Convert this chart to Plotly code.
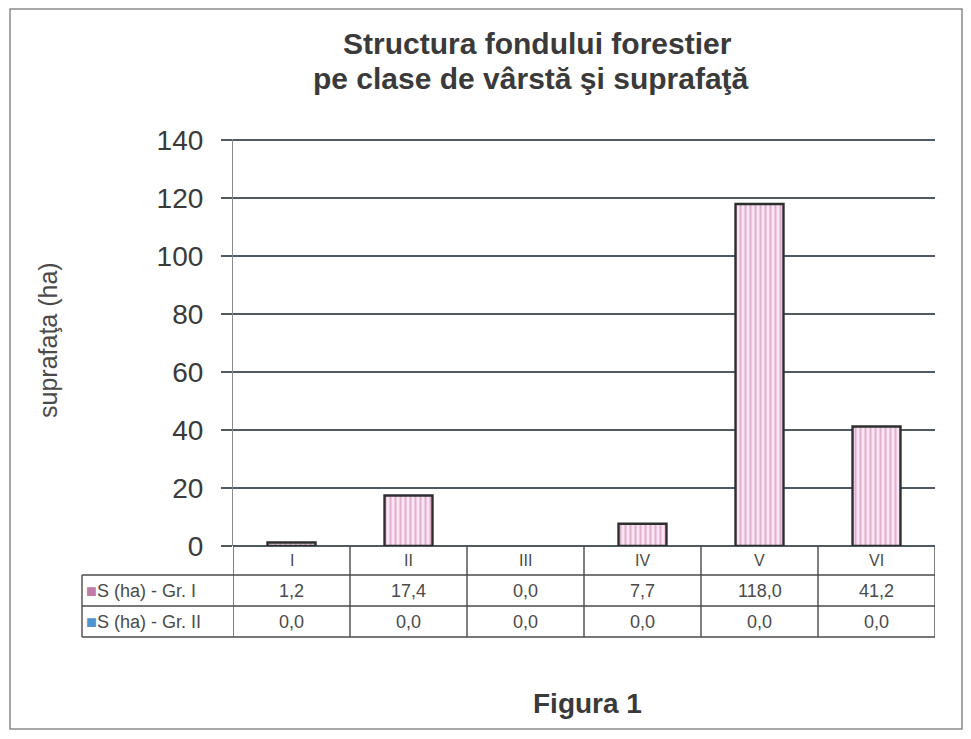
import plotly.graph_objects as go

categories = ["I", "II", "III", "IV", "V", "VI"]
gr1 = [1.2, 17.4, 0.0, 7.7, 118.0, 41.2]
gr2 = [0.0, 0.0, 0.0, 0.0, 0.0, 0.0]
series_names = ["S (ha) - Gr. I", "S (ha) - Gr. II"]
y_ticks = [0, 20, 40, 60, 80, 100, 120, 140]

# page has an 8px body margin; reference pixel coords are mapped by subtracting it
OFF = 8
W, H = 955, 723
L, R, T, B = 225, 28, 131, 185
PW, PH = W - L - R, H - T - B


def px_x(px):
    return (px - OFF - L) / PW


def px_y(py):
    return (H - B - (py - OFF)) / PH


FONT = "Liberation Sans, Arial, sans-serif"
GRID = "#4f5a64"
LINE = "#4a4a4a"
TXT = "#4a4a4a"

fig = go.Figure()
fig.add_trace(go.Bar(
    x=list(range(len(categories))), y=gr1, name=series_names[0], width=0.41,
    marker=dict(color="#f6e3ee",
                line=dict(color="#2e2e2e", width=[2.4 if v > 0 else 0 for v in gr1]),
                pattern=dict(shape="|", fgcolor="#c776ae", bgcolor="#f9e6f1",
                             size=5, solidity=0.4)),
    showlegend=False,
))
fig.add_trace(go.Bar(
    x=list(range(len(categories))), y=gr2, name=series_names[1], width=0.41,
    marker=dict(color="#6aa6d8", line=dict(width=0)),
    showlegend=False,
))

shapes = []
ann = []
r0, r1, r2, r3 = px_y(546), px_y(575), px_y(606), px_y(637)
row_mid = [(r0 + r1) / 2, (r1 + r2) / 2, (r2 + r3) / 2]
left_x = px_x(82)

for i in range(len(categories) + 1):
    shapes.append(dict(type="line", xref="x", yref="paper", x0=i - 0.5, x1=i - 0.5,
                       y0=r0, y1=r3, line=dict(color=LINE, width=1.4)))
for yy in [r1, r2, r3]:
    shapes.append(dict(type="line", xref="paper", yref="paper", x0=left_x, x1=1,
                       y0=yy, y1=yy, line=dict(color=LINE, width=1.4)))
shapes.append(dict(type="line", xref="paper", yref="paper", x0=left_x, x1=left_x,
                   y0=r1, y1=r3, line=dict(color=LINE, width=1.4)))
shapes.append(dict(type="rect", xref="paper", yref="paper", x0=px_x(10), x1=px_x(962),
                   y0=px_y(729), y1=px_y(9), line=dict(color="#8a8a8a", width=1.5),
                   layer="below"))

for i, c in enumerate(categories):
    ann.append(dict(x=i, y=row_mid[0], xref="x", yref="paper", text=c, showarrow=False,
                    xanchor="center", yanchor="middle",
                    font=dict(family=FONT, size=16, color=TXT)))
for r, vals in enumerate([gr1, gr2]):
    for i, v in enumerate(vals):
        ann.append(dict(x=i, y=row_mid[r + 1], xref="x", yref="paper",
                        text=f"{v:.1f}".replace(".", ","), showarrow=False,
                        xanchor="center", yanchor="middle",
                        font=dict(family=FONT, size=18, color=TXT)))
key_colors = ["#c07aa8", "#4f93cf"]
for r, nm in enumerate(series_names):
    ann.append(dict(x=px_x(84), y=row_mid[r + 1], xref="paper", yref="paper",
                    xanchor="left", yanchor="middle", showarrow=False,
                    text=f'<span style="color:{key_colors[r]}">■</span>{nm}',
                    font=dict(family=FONT, size=18, color=TXT)))

ann.append(dict(x=px_x(537), y=px_y(43), xref="paper", yref="paper", showarrow=False,
                xanchor="center", yanchor="middle",
                text="<b>Structura fondului forestier</b>",
                font=dict(family=FONT, size=30, color="#3a3a3a")))
ann.append(dict(x=px_x(531), y=px_y(78), xref="paper", yref="paper", showarrow=False,
                xanchor="center", yanchor="middle",
                text="<b>pe clase de vârstă şi suprafaţă</b>",
                font=dict(family=FONT, size=30, color="#3a3a3a")))
ann.append(dict(x=px_x(48), y=px_y(340), xref="paper", yref="paper", showarrow=False,
                xanchor="center", yanchor="middle",
                text="suprafaţa (ha)", textangle=-90,
                font=dict(family=FONT, size=25, color="#4a4a4a")))
ann.append(dict(x=px_x(587), y=px_y(703), xref="paper", yref="paper", showarrow=False,
                xanchor="center", yanchor="middle",
                text="<b>Figura 1</b>",
                font=dict(family=FONT, size=28, color="#3a3a3a")))

fig.update_layout(
    width=W, height=H,
    margin=dict(l=L, r=R, t=T, b=B),
    paper_bgcolor="white", plot_bgcolor="white",
    barmode="overlay",
    shapes=shapes, annotations=ann,
    xaxis=dict(range=[-0.5, 5.5], showticklabels=False, showgrid=False, zeroline=False,
               showline=False, ticks=""),
    yaxis=dict(range=[0, 140.4], tickvals=y_ticks, showgrid=True, gridcolor=GRID,
               gridwidth=1.6, zeroline=True, zerolinecolor=GRID, zerolinewidth=1.6,
               showline=True, linecolor="#8a8a8a", linewidth=1.2,
               ticks="outside", ticklen=11, tickcolor=GRID, tickwidth=1.6,
               tickfont=dict(family=FONT, size=28, color="#3a3a3a"),
               ticklabelstandoff=12),
)

fig.write_html("out.html")
